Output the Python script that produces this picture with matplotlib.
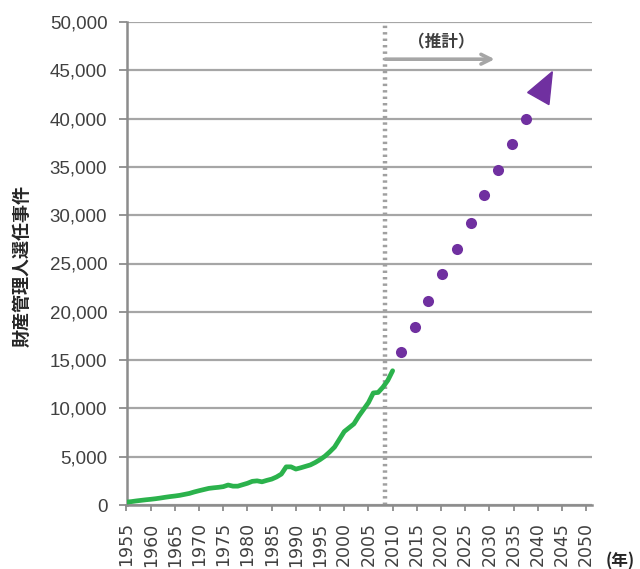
import matplotlib
matplotlib.use("Agg")
import matplotlib.pyplot as plt
from matplotlib.patches import Polygon
from matplotlib.ticker import FuncFormatter

# ---- data ----
actual_years = list(range(1955, 2011))
actual_values = [300, 350, 420, 480, 540, 590, 650, 720, 800, 870,
                 930, 1000, 1100, 1200, 1350, 1480, 1600, 1720, 1780, 1830,
                 1900, 2070, 1950, 1950, 2100, 2250, 2450, 2500, 2400, 2550,
                 2680, 2900, 3200, 3950, 3950, 3720, 3850, 4000, 4150, 4400,
                 4700, 5050, 5500, 6000, 6800, 7600, 8000, 8400, 9200, 9900,
                 10600, 11600, 11650, 12200, 12900, 13900]

proj_years = [2011.7, 2014.6, 2017.4, 2020.3, 2023.2, 2026.1, 2028.9, 2031.8, 2034.7, 2037.5]
proj_values = [15800, 18450, 21150, 23880, 26530, 29220, 32050, 34670, 37360, 39980]

arrow_head_years = [2037.9, 2043.0, 2042.3]
arrow_head_values = [42700, 44850, 41450]

boundary_year = 2008.5
estimate_arrow_years = [2008.5, 2031.1]
estimate_arrow_value = 46150

x_ticks = list(range(1955, 2051, 5))
y_ticks = list(range(0, 50001, 5000))

ylabel_text = "財産管理人選任事件"
estimate_text = "（推計）"
year_unit_text = "(年)"

# ---- style ----
GREEN = "#2bb24c"
PURPLE = "#7030a0"
GRID = "#a6a6a6"
SPINE = "#8c8c8c"
TXT = "#404040"
CJK = ["Noto Sans CJK JP", "DejaVu Sans"]

fig = plt.figure(figsize=(6.4, 5.69), dpi=100)
ax = fig.add_axes([126.5 / 640, 1 - 505 / 569, (592 - 126.5) / 640, (505 - 22) / 569])

ax.set_xlim(1955, 2051.2)
ax.set_ylim(0, 50000)

ax.set_yticks(y_ticks)
ax.yaxis.grid(True, color=GRID, linewidth=1.6)
ax.set_axisbelow(True)
ax.set_xticks(x_ticks)
ax.set_xticklabels([str(y) for y in x_ticks], rotation=90, fontsize=12.5,
                   family="DejaVu Sans", color=TXT)
ax.yaxis.set_major_formatter(FuncFormatter(lambda v, p: f"{int(v):,}"))
for lab in ax.get_yticklabels():
    lab.set_family("Liberation Sans")
    lab.set_fontsize(13.5)
    lab.set_color(TXT)

ax.tick_params(axis="y", direction="out", length=5.8, width=1.3, color=SPINE, pad=8)
ax.tick_params(axis="x", direction="out", length=4.5, width=1.3, color=SPINE, pad=8)

for s in ["top", "right"]:
    ax.spines[s].set_visible(False)
for s in ["left", "bottom"]:
    ax.spines[s].set_color(SPINE)
    ax.spines[s].set_linewidth(1.8)

# vertical dotted boundary
ax.axvline(boundary_year, color="#a0a0a0", linewidth=3.2, linestyle=(0, (0.55, 0.9)), zorder=2)

# actual line
ax.plot(actual_years, actual_values, color=GREEN, linewidth=3.4, solid_capstyle="round", zorder=4)

# projection dots
ax.plot(proj_years, proj_values, linestyle="none", marker="o", markersize=8,
        color=PURPLE, markeredgewidth=0, zorder=4)

# arrow head
ax.add_patch(Polygon(list(zip(arrow_head_years, arrow_head_values)), closed=True,
                     facecolor=PURPLE, edgecolor=PURPLE, linewidth=1, zorder=4))

# estimate arrow
ax.annotate("", xy=(estimate_arrow_years[1], estimate_arrow_value),
            xytext=(estimate_arrow_years[0], estimate_arrow_value),
            arrowprops=dict(arrowstyle="->,head_length=0.7,head_width=0.35",
                        color="#a6a6a6", linewidth=2.6, shrinkA=0, shrinkB=0),
            zorder=5)
ax.text((estimate_arrow_years[0] + estimate_arrow_years[1]) / 2 + 0.3, 47850, estimate_text,
        ha="center", va="center", fontsize=12, family=CJK, fontweight="bold", color="#404040")

ax.set_ylabel(ylabel_text, family=CJK, fontsize=13, fontweight="bold", color="#262626")
ax.yaxis.set_label_coords(-0.203, 0.495)

fig.text(620 / 640, 1 - 561 / 569, year_unit_text, ha="center", va="center",
         family=CJK, fontsize=12, fontweight="bold", color="#262626")

fig.savefig("out.png", dpi=100)
